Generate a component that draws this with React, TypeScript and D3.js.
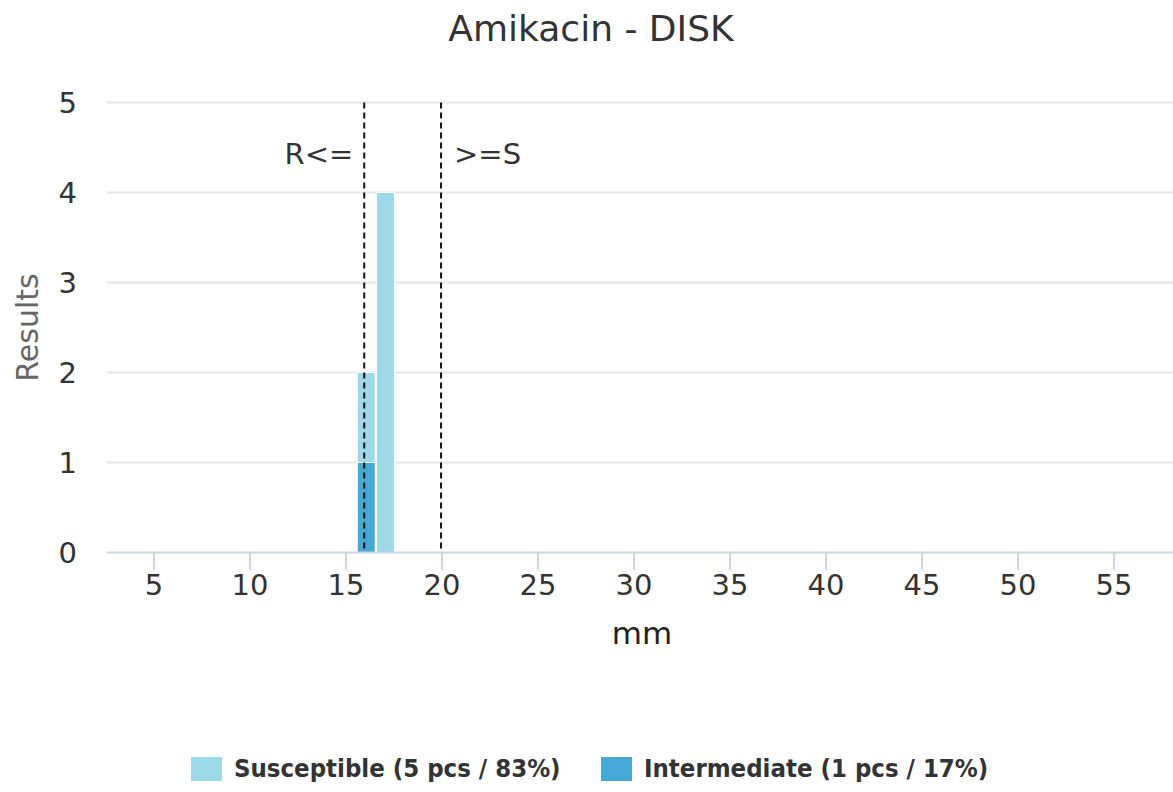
import * as d3 from "d3";

// measured zone diameters (mm) and result counts per series
const categories = [16, 17];
const intermediate = [1, 0];
const susceptible = [1, 4];

const seriesNames = ["Intermediate", "Susceptible"];
const seriesColors = ["#44a9d5", "#9ed9ea"];

const xTicks = [5, 10, 15, 20, 25, 30, 35, 40, 45, 50, 55];
const yTicks = [0, 1, 2, 3, 4, 5];

const breakpoints = [
  { label: "R<=", value: 16 },
  { label: ">=S", value: 20 },
];

const legendItems = [
  { label: "Susceptible (5 pcs / 83%)", color: "#9ed9ea" },
  { label: "Intermediate (1 pcs / 17%)", color: "#44a9d5" },
];

const W = 1173;
const H = 792;
const FONT = "'DejaVu Sans', sans-serif";

export default function App() {
  const plot = { left: 107, right: 1173, top: 102.5, bottom: 552.5 };

  const x = d3.scaleLinear().domain([2.55, 58.07]).range([plot.left, plot.right]);
  const y = d3.scaleLinear().domain([0, 5]).range([plot.bottom, plot.top]);

  // stack intermediate at the bottom, susceptible above
  const rows = categories.map((c, i) => ({
    cat: c,
    Intermediate: intermediate[i],
    Susceptible: susceptible[i],
  }));
  const stacked = d3.stack<any>().keys(seriesNames)(rows);
  const barW = 18;

  return (
    <svg
      width={W}
      height={H}
      style={{ position: "absolute", left: 0, top: 0, background: "#fff" }}
      fontFamily={FONT}
    >
      {/* title */}
      <text x={591} y={41} textAnchor="middle" fontSize={36} fill="#333">
        Amikacin - DISK
      </text>

      {/* grid */}
      {yTicks
        .filter((t) => t > 0)
        .map((t) => (
          <line
            key={"g" + t}
            x1={plot.left}
            x2={plot.right}
            y1={y(t)}
            y2={y(t)}
            stroke="#e6e6e6"
            strokeWidth={2}
          />
        ))}

      {/* y labels */}
      {yTicks.map((t) => (
        <text
          key={"yl" + t}
          x={77}
          y={y(t)}
          dy="0.36em"
          textAnchor="end"
          fontSize={29}
          fill="#333"
        >
          {t}
        </text>
      ))}
      <text
        transform={`translate(38,${(plot.top + plot.bottom) / 2}) rotate(-90)`}
        textAnchor="middle"
        fontSize={30}
        fill="#666"
      >
        Results
      </text>

      {/* bars */}
      {stacked.map((layer, si) =>
        layer.map((d, i) =>
          d[1] - d[0] > 0 ? (
            <rect
              key={si + "-" + i}
              x={x(categories[i]) - barW / 2 + 1}
              y={y(d[1])}
              width={barW}
              height={y(d[0]) - y(d[1])}
              fill={seriesColors[si]}
              stroke="#fff"
              strokeWidth={1}
            />
          ) : null
        )
      )}

      {/* x axis */}
      <line
        x1={plot.left}
        x2={plot.right}
        y1={plot.bottom}
        y2={plot.bottom}
        stroke="#ccd6eb"
        strokeWidth={2}
      />
      {xTicks.map((t) => (
        <g key={"xt" + t}>
          <line
            x1={x(t)}
            x2={x(t)}
            y1={plot.bottom}
            y2={plot.bottom + 18}
            stroke="#ccd6eb"
            strokeWidth={2}
          />
          <text x={x(t)} y={595} textAnchor="middle" fontSize={29} fill="#333">
            {t}
          </text>
        </g>
      ))}
      <text x={642} y={644} textAnchor="middle" fontSize={31} fill="#222">
        mm
      </text>

      {/* breakpoint lines */}
      {breakpoints.map((b, i) => (
        <g key={"bp" + i}>
          <line
            x1={x(b.value) - 1}
            x2={x(b.value) - 1}
            y1={plot.top}
            y2={plot.bottom}
            stroke="#111"
            strokeWidth={2}
            strokeDasharray="6,4"
          />
          <text
            x={i === 0 ? x(b.value) - 12 : x(b.value) + 12}
            y={164}
            textAnchor={i === 0 ? "end" : "start"}
            fontSize={29}
            fill="#333"
          >
            {b.label}
          </text>
        </g>
      ))}

      {/* legend */}
      {legendItems.map((l, i) => {
        const lx = i === 0 ? 191 : 601;
        return (
          <g key={"lg" + i}>
            <rect x={lx} y={757} width={31} height={24} fill={l.color} />
            <text
              x={lx + 43}
              y={777}
              fontFamily="'DejaVu Sans Condensed', 'DejaVu Sans', sans-serif"
              fontWeight="bold"
              fontSize={25.5}
              fill="#333"
            >
              {l.label}
            </text>
          </g>
        );
      })}
    </svg>
  );
}
